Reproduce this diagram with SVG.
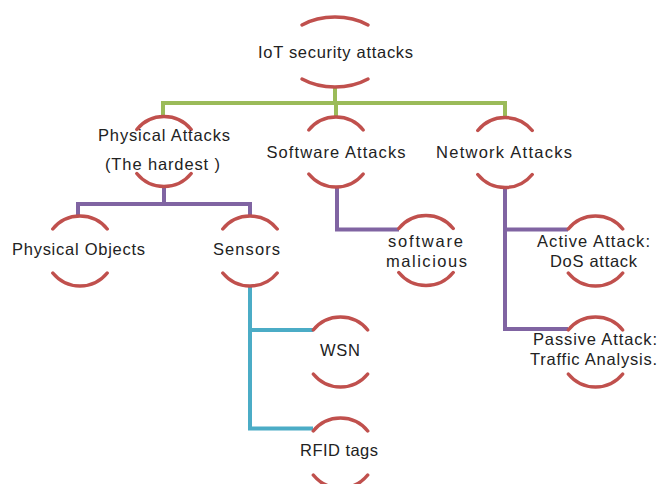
<svg xmlns="http://www.w3.org/2000/svg" xmlns:xlink="http://www.w3.org/1999/xlink" width="661" height="484" viewBox="0 0 661 484">
  <style>
    .ring { fill: none; stroke: #C0504D; stroke-width: 3.5; stroke-linecap: round; }
    .lbl { font-family: "Liberation Sans", Arial, sans-serif; font-size: 16.5px; fill: #222222; text-anchor: middle; }
    .wire { fill: none; stroke-width: 4; stroke-linejoin: miter; stroke-linecap: butt; }
    .green { stroke: #9BBB59; }
    .purple { stroke: #8064A2; }
    .blue { stroke: #4BACC6; }
  </style>
  <defs>
    <!-- open circle: top and bottom arcs only -->
    <path id="ring" d="M -27.2 -22 A 35 35 0 0 1 27.2 -22 M -27.2 22 A 35 35 0 0 0 27.2 22"/>
    <!-- wider open ellipse for the root -->
    <path id="ring-wide" d="M -33 -27 A 52 35 0 0 1 33 -27 M -33 27 A 52 35 0 0 0 33 27"/>
  </defs>
  <rect width="661" height="484" fill="#ffffff"/>

  <g id="connectors">
    <!-- root to level 1 -->
    <path class="wire green" d="M 335 87 V 103 M 163 116 V 103 H 505 V 116 M 336 103 V 117"/>
    <!-- physical attacks branch -->
    <path class="wire purple" d="M 164 187 V 204 M 78 216 V 204 H 250 V 216"/>
    <!-- software attacks branch -->
    <path class="wire purple" d="M 337 188 V 229.5 H 399"/>
    <!-- network attacks branch -->
    <path class="wire purple" d="M 505 188 V 329 H 568 M 505 229.5 H 568"/>
    <!-- sensors branch -->
    <path class="wire blue" d="M 250 287 V 428.5 H 313 M 250 330 H 313"/>
  </g>

  <g id="node-root">
    <use href="#ring-wide" xlink:href="#ring-wide" class="ring" x="335" y="52"/>
    <text class="lbl" x="335.5" y="58" textLength="155" lengthAdjust="spacing">IoT security attacks</text>
  </g>

  <g id="node-physical-attacks">
    <use href="#ring" xlink:href="#ring" class="ring" x="164" y="151.5"/>
    <text class="lbl" x="164" y="141" textLength="132" lengthAdjust="spacing">Physical Attacks</text>
    <text class="lbl" x="162.5" y="170" textLength="115" lengthAdjust="spacing">(The hardest )</text>
  </g>

  <g id="node-software-attacks">
    <use href="#ring" xlink:href="#ring" class="ring" x="336" y="152"/>
    <text class="lbl" x="336" y="157.5" textLength="139" lengthAdjust="spacing">Software Attacks</text>
  </g>

  <g id="node-network-attacks">
    <use href="#ring" xlink:href="#ring" class="ring" x="505" y="152.5"/>
    <text class="lbl" x="504" y="157.5" textLength="136" lengthAdjust="spacing">Network Attacks</text>
  </g>

  <g id="node-physical-objects">
    <use href="#ring" xlink:href="#ring" class="ring" x="80" y="251"/>
    <text class="lbl" x="78.5" y="255" textLength="133" lengthAdjust="spacing">Physical Objects</text>
  </g>

  <g id="node-sensors">
    <use href="#ring" xlink:href="#ring" class="ring" x="250" y="251"/>
    <text class="lbl" x="246.5" y="255" textLength="67" lengthAdjust="spacing">Sensors</text>
  </g>

  <g id="node-software-malicious">
    <use href="#ring" xlink:href="#ring" class="ring" x="426" y="250.5"/>
    <text class="lbl" x="425.5" y="247" textLength="75" lengthAdjust="spacing">software</text>
    <text class="lbl" x="426.5" y="267" textLength="81" lengthAdjust="spacing">malicious</text>
  </g>

  <g id="node-active-attack">
    <use href="#ring" xlink:href="#ring" class="ring" x="595.5" y="251"/>
    <text class="lbl" x="593.5" y="247" textLength="113" lengthAdjust="spacing">Active Attack:</text>
    <text class="lbl" x="593.5" y="267" textLength="87" lengthAdjust="spacing">DoS attack</text>
  </g>

  <g id="node-passive-attack">
    <use href="#ring" xlink:href="#ring" class="ring" x="595.5" y="352"/>
    <text class="lbl" x="595" y="345" textLength="124" lengthAdjust="spacing">Passive Attack:</text>
    <text class="lbl" x="593.5" y="365" textLength="127" lengthAdjust="spacing">Traffic Analysis.</text>
  </g>

  <g id="node-wsn">
    <use href="#ring" xlink:href="#ring" class="ring" x="340.5" y="352"/>
    <text class="lbl" x="340" y="355.5" textLength="40" lengthAdjust="spacing">WSN</text>
  </g>

  <g id="node-rfid-tags">
    <use href="#ring" xlink:href="#ring" class="ring" x="340.5" y="453"/>
    <text class="lbl" x="339" y="455.5" textLength="78" lengthAdjust="spacing">RFID tags</text>
  </g>
</svg>
